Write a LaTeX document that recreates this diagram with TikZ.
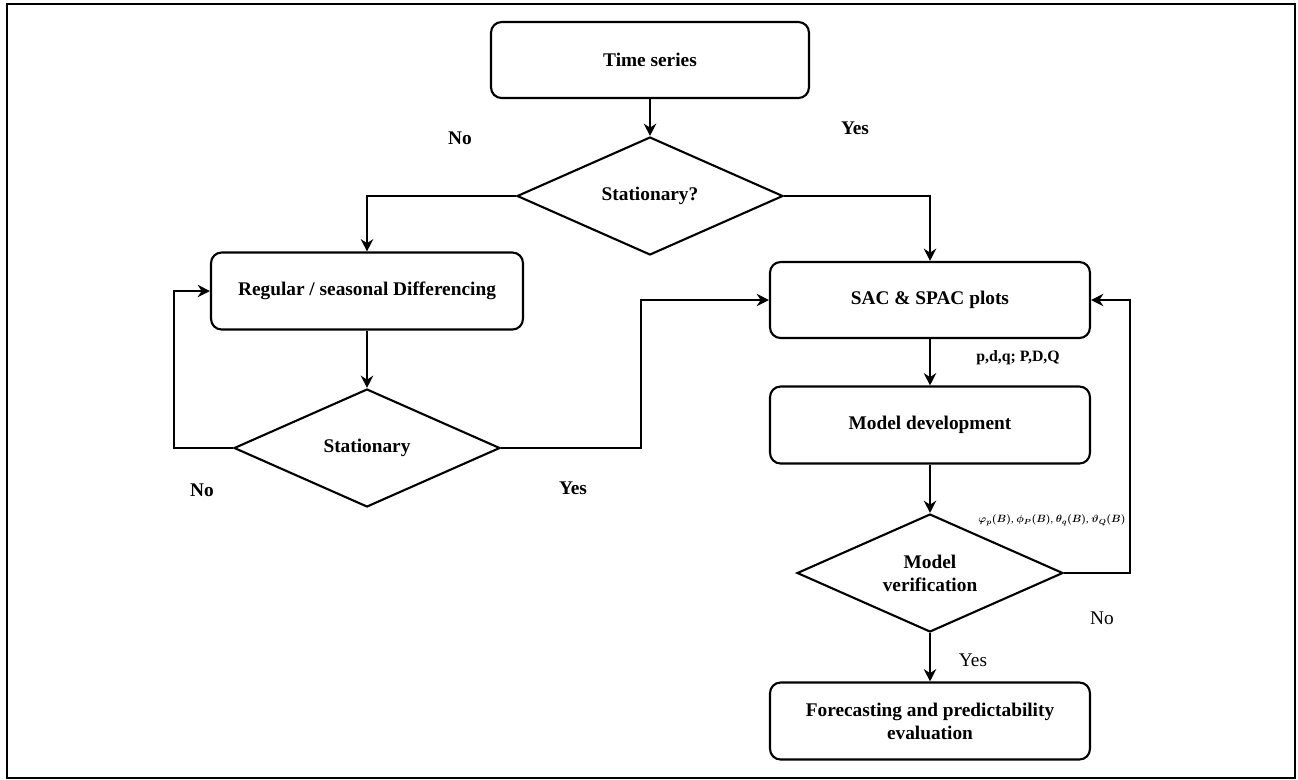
\documentclass[tikz,border=0pt]{standalone}
\usepackage{fontspec}
\setmainfont{Liberation Serif}
\usetikzlibrary{shapes.geometric,arrows.meta}

\begin{document}
\begin{tikzpicture}[x=0.02cm, y=-0.02cm,
  box/.style={draw, line width=1.2pt, rounded corners=6pt, minimum width=6.4cm, minimum height=1.52cm, align=center, font=\fontsize{11}{13}\selectfont\bfseries},
  test/.style={draw, diamond, aspect=2.25, line width=1.2pt, inner sep=0pt, minimum width=5.32cm, minimum height=2.36cm, align=center, font=\fontsize{11}{13}\selectfont\bfseries},
  flow/.style={line width=1.2pt, -{Stealth[length=7pt,width=7pt]}},
  lbl/.style={font=\fontsize{11}{13}\selectfont\bfseries},
  lblthin/.style={font=\fontsize{11}{13}\selectfont}]
\useasboundingbox (0,0) rectangle (1298,779);
\draw[line width=1.5pt] (7,4) rectangle (1295,778);

\node[box, minimum width=6.36cm] (ts) at (650,60) {Time series};
\node[test] (st1) at (650,196) {Stationary?};
\node[box, minimum width=6.24cm, minimum height=1.54cm] (diff) at (367,291) {Regular / seasonal Differencing};
\node[test] (st2) at (367,448) {Stationary};
\node[box] (sac) at (930,300) {SAC \& SPAC plots};
\node[box, minimum height=1.54cm] (md) at (930,425) {Model development};
\node[test] (mv) at (930,573) {Model\\verification};
\node[box, minimum height=1.54cm] (fc) at (930,721) {Forecasting and predictability\\evaluation};

\coordinate (lft) at (174,448);
\coordinate (rgt) at (641,448);
\coordinate (back) at (1130,573);

\draw[flow] (ts) -- (st1);
\draw[flow] (st1.west) -| (diff.north);
\draw[flow] (st1.east) -| (sac.north);
\draw[flow] (diff) -- (st2);
\draw[flow] (st2.west) -- (lft) |- (diff.west);
\draw[flow] (st2.east) -- (rgt) |- (sac.west);
\draw[flow] (sac) -- (md);
\draw[flow] (md) -- (mv);
\draw[flow] (mv.east) -- (back) |- (sac.east);
\draw[flow] (mv) -- (fc);

\node[lbl] (no1) at (460,138) {No};
\node[lbl] (yes1) at (855,128) {Yes};
\node[lbl] (no2) at (202,490) {No};
\node[lbl] (yes2) at (573,488) {Yes};
\node[font=\fontsize{9}{11}\selectfont\bfseries] (pdq) at (1018,358) {p,d,q; P,D,Q};
\node[font=\boldmath] (poly) at (1052,520) {\scalebox{0.6}{$\varphi_p(B)$, $\phi_P(B)$, $\theta_q(B)$, $\vartheta_Q(B)$}};
\node[lblthin] (no3) at (1102,618) {No};
\node[lblthin] (yes3) at (973,660) {Yes};
\end{tikzpicture}
\end{document}
